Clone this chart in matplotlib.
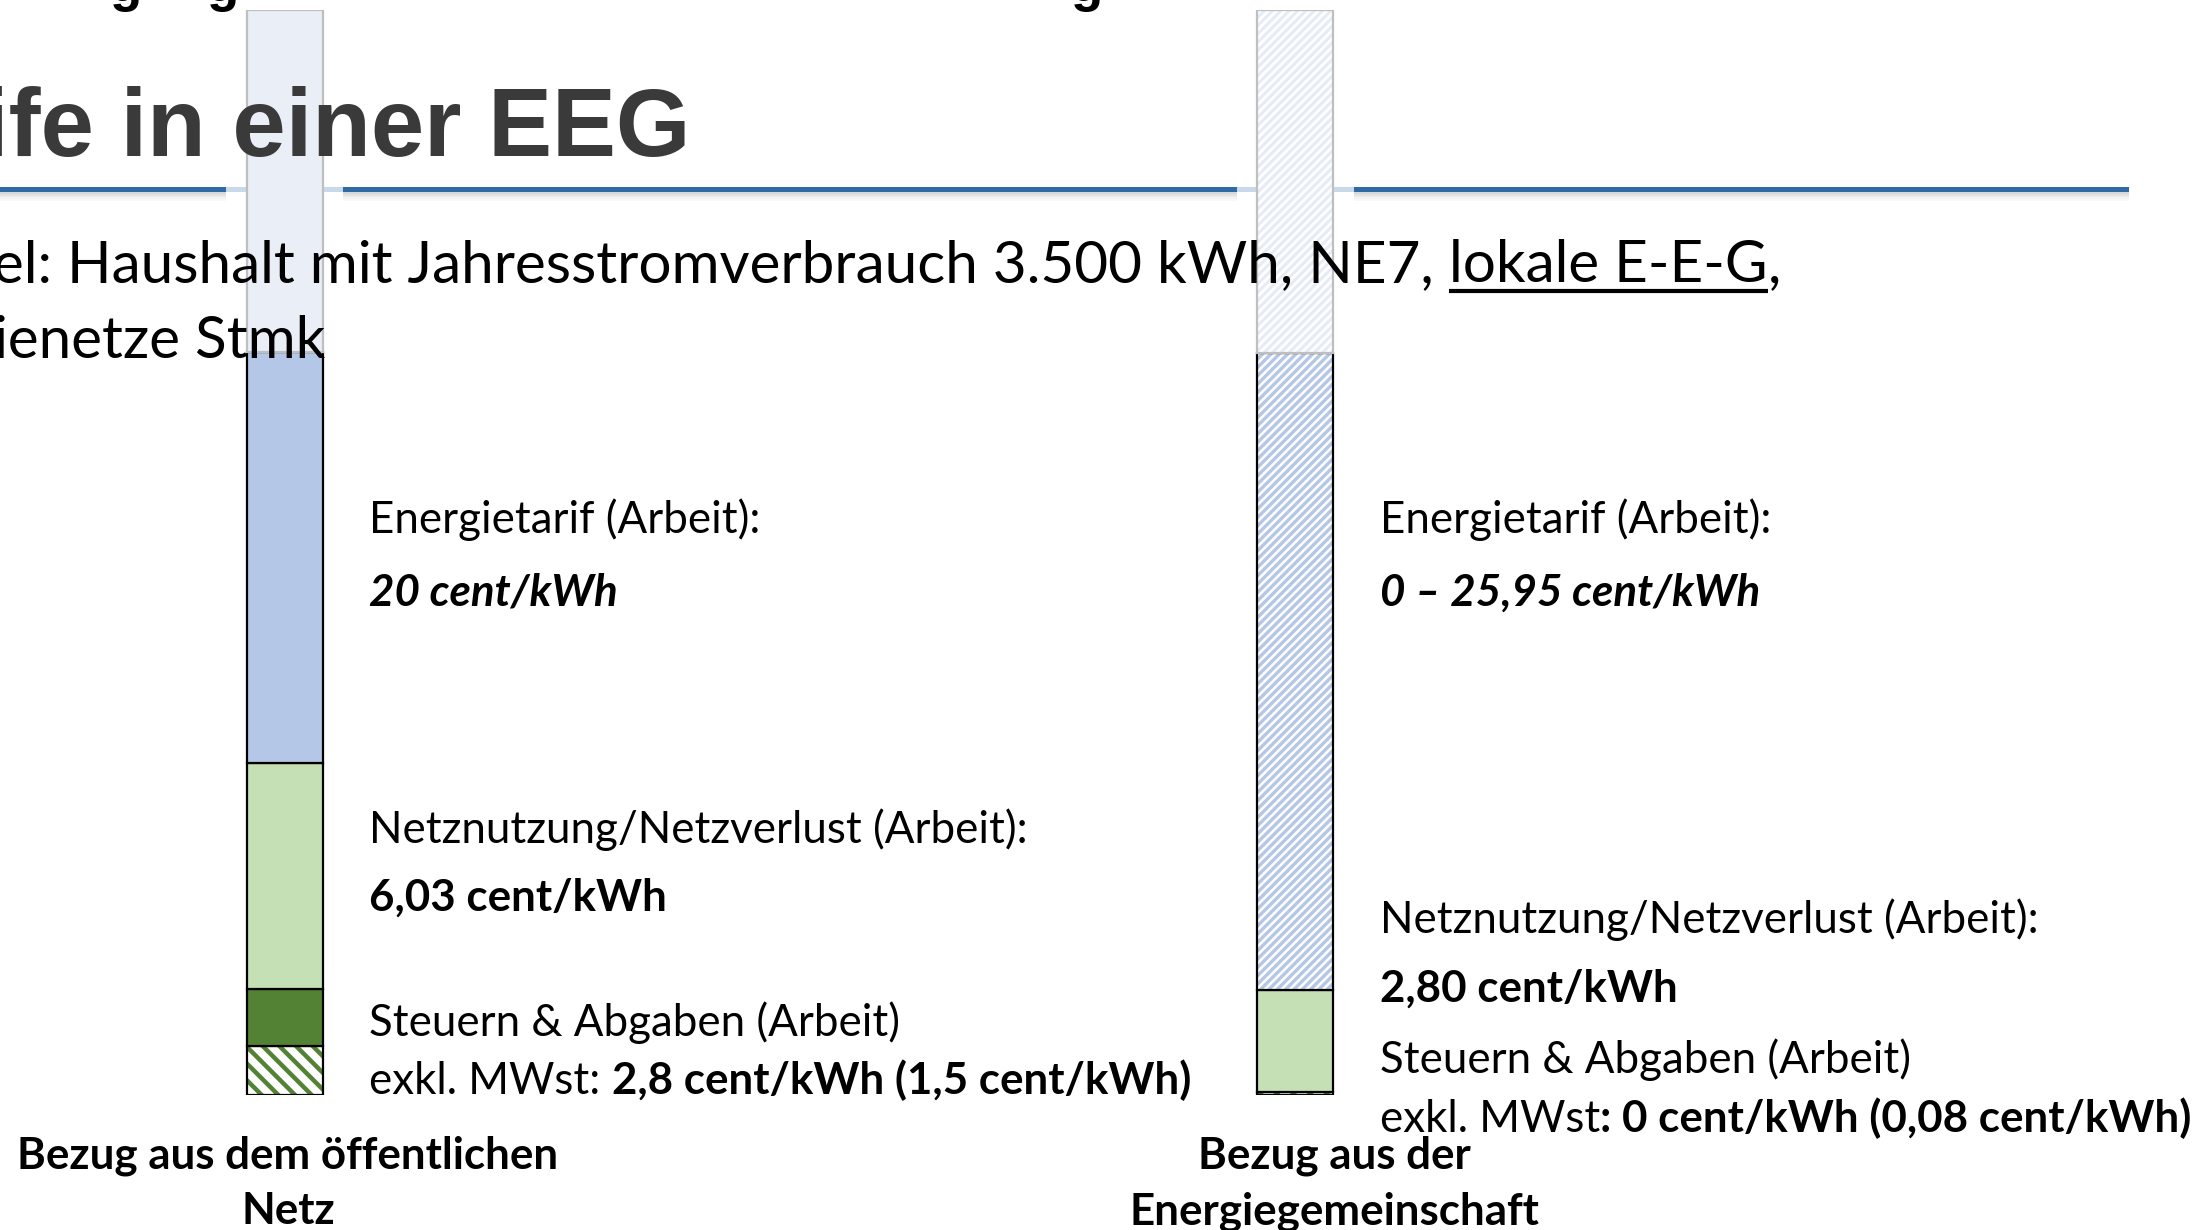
import matplotlib
matplotlib.use('Agg')
import matplotlib.pyplot as plt
from matplotlib.patches import Rectangle

# %% Data (segment heights, bottom to top)

categories = ['Bezug aus dem öffentlichen\nNetz', 'Bezug aus der\nEnergiegemeinschaft']
segments = ['Steuern MWst-Anteil', 'Steuern & Abgaben', 'Netznutzung', 'Energietarif', 'Rest']
netz_heights = [2.38, 2.77, 11.0, 20.0, 16.64]
eeg_heights = [0.15, 0.0, 4.96, 31.0, 16.69]

netz_labels = [('Energietarif (Arbeit):', '20 cent/kWh'),
               ('Netznutzung/Netzverlust (Arbeit):', '6,03 cent/kWh'),
               ('Steuern & Abgaben (Arbeit)', 'exkl. MWst:', '2,8 cent/kWh (1,5 cent/kWh)')]
eeg_labels = [('Energietarif (Arbeit):', '0 – 25,95 cent/kWh'),
              ('Netznutzung/Netzverlust (Arbeit):', '2,80 cent/kWh'),
              ('Steuern & Abgaben (Arbeit)', 'exkl. MWst', ': 0 cent/kWh (0,08 cent/kWh)')]

title = 'ife in einer EEG'
subtitle = ['el: Haushalt mit Jahresstromverbrauch 3.500 kWh, NE7, ', 'lokale E-E-G', ',']
subtitle2 = 'ienetze Stmk'

# %% Figure

W, H = 2199, 1230
plt.rcParams['font.family'] = ['Lato', 'DejaVu Sans']
fig = plt.figure(figsize=(W/100, H/100), dpi=100)
renderer = fig.canvas.get_renderer()


def fx(x):
    return x/W


def fy(y):
    return 1 - y/H


# slide background: blue rule with shadow
bg = fig.add_axes([0, 0, 1, 1])
bg.set_xlim(0, W)
bg.set_ylim(H, 0)
bg.axis('off')
bg.add_patch(Rectangle((0, 187), 2129, 5, color='#2f6aa5', lw=0))
for i, a in enumerate([0.30, 0.22, 0.15, 0.09, 0.05]):
    bg.add_patch(Rectangle((0, 192 + i*1.8), 2129, 1.8, color='#808080', alpha=a, lw=0))
for x0, x1 in [(226, 343), (1237, 1354)]:
    bg.add_patch(Rectangle((x0, 185), x1 - x0, 20, color='white', lw=0))
    bg.add_patch(Rectangle((x0, 187), x1 - x0, 5, color='#c8d9ea', lw=0))

# %% Bars

ax = fig.add_axes([0, (H - 1095)/H, 1, 1085/H])
ax.set_xlim(-285/1010, (W - 285)/1010)
ax.set_ylim(0, 52.8)
ax.axis('off')
ax.patch.set_alpha(0)
width = 76/1010

# (face, hatch, hatch colour, hatch width, edge colour) per segment
netz_styles = [('white', '\\\\', '#548235', 3.2, 'black'),
               ('#548235', None, None, 0, 'black'),
               ('#c5e0b4', None, None, 0, 'black'),
               ('#b4c7e7', None, None, 0, 'black'),
               ('#e9eef7', None, None, 0, '#bfbfbf')]
eeg_styles = [('white', '\\\\', '#548235', 3.2, 'black'),
              ('#548235', None, None, 0, 'black'),
              ('#c5e0b4', None, None, 0, 'black'),
              ('white', '////', '#b4c7e7', 2.4, 'black'),
              ('white', '////', '#e6ecf6', 2.2, '#bfbfbf')]

for x, heights, styles in [(0, netz_heights, netz_styles), (1, eeg_heights, eeg_styles)]:
    bottom = 0
    for h, (face, hatch, hcol, hlw, edge) in zip(heights, styles):
        if h <= 0:
            continue
        if hatch:
            plt.rcParams['hatch.linewidth'] = hlw
            b = ax.bar(x, h, width, bottom=bottom, color=face, edgecolor=hcol, hatch=hatch, lw=0)
            for p in b:
                try:
                    p.set_hatch_linewidth(hlw)
                except AttributeError:
                    pass
        else:
            ax.bar(x, h, width, bottom=bottom, color=face, lw=0)
        ax.bar(x, h, width, bottom=bottom, color='none', edgecolor=edge, lw=1.6)
        bottom += h

# %% Texts


def text_w(s, **kw):
    t = fig.text(0, 0, s, **kw)
    w = t.get_window_extent(renderer).width
    t.remove()
    return w


def run(x, y, pieces, size, anchor='left'):
    # pieces: (text, weight, style, underline); leading/trailing blanks become gaps
    sp = text_w('x x', fontsize=size) - text_w('xx', fontsize=size)
    items = []
    for s, wt, st, ul in pieces:
        lead = (len(s) - len(s.lstrip(' ')))*sp
        trail = (len(s) - len(s.rstrip(' ')))*sp
        w = text_w(s.strip(' '), fontsize=size, fontweight=wt, fontstyle=st)
        items.append((s.strip(' '), wt, st, ul, lead, w, trail))
    total = sum(i[4] + i[5] + i[6] for i in items)
    cx = x - total if anchor == 'right' else x
    for s, wt, st, ul, lead, w, trail in items:
        cx += lead
        fig.text(fx(cx), fy(y), s, fontsize=size, fontweight=wt, fontstyle=st,
                 va='baseline', ha='left', color='black')
        if ul:
            bg.plot([cx, cx + w], [y + 9, y + 9], color='black', lw=3, solid_capstyle='butt')
        cx += w + trail


# title and subtitle
fig.text(fx(691), fy(156), title, family=['Liberation Sans', 'DejaVu Sans'], fontsize=69,
         fontweight='bold', color='#3a3a3a', ha='right', va='baseline')
for gx in [126, 223, 1087]:
    fig.text(fx(gx), fy(1), 'g', family=['Liberation Sans', 'DejaVu Sans'], fontsize=38,
             fontweight='bold', color='black', ha='center', va='baseline')
run(1781, 282, [(subtitle[0], 'normal', 'normal', False),
                (subtitle[1], 'normal', 'normal', True),
                (subtitle[2], 'normal', 'normal', False)], 42, anchor='right')
run(325, 358, [(subtitle2, 'normal', 'normal', False)], 42, anchor='right')

# segment annotations
body = 31.6
for x0, labels, ys in [(369, netz_labels, [533, 606, 843, 911, 1036, 1094]),
                       (1380, eeg_labels, [533, 606, 933, 1002, 1073, 1132])]:
    fig.text(fx(x0), fy(ys[0]), labels[0][0], fontsize=body, va='baseline')
    fig.text(fx(x0), fy(ys[1]), labels[0][1], fontsize=body, fontweight='bold',
             fontstyle='italic', va='baseline')
    fig.text(fx(x0), fy(ys[2]), labels[1][0], fontsize=body, va='baseline')
    fig.text(fx(x0), fy(ys[3]), labels[1][1], fontsize=body, fontweight='bold', va='baseline')
    fig.text(fx(x0), fy(ys[4]), labels[2][0], fontsize=body, va='baseline')
    gap = ' ' if labels[2][1].endswith(':') else ''
    run(x0, ys[5], [(labels[2][1] + gap, 'normal', 'normal', False),
                    (labels[2][2], 'bold', 'normal', False)], body)

# category labels under the bars
for cx, cat in zip([288, 1334], categories):
    for k, line in enumerate(cat.split('\n')):
        fig.text(fx(cx), fy(1168 + k*56), line, fontsize=body, fontweight='bold',
                 ha='center', va='baseline')

fig.savefig('out.png', dpi=100)
